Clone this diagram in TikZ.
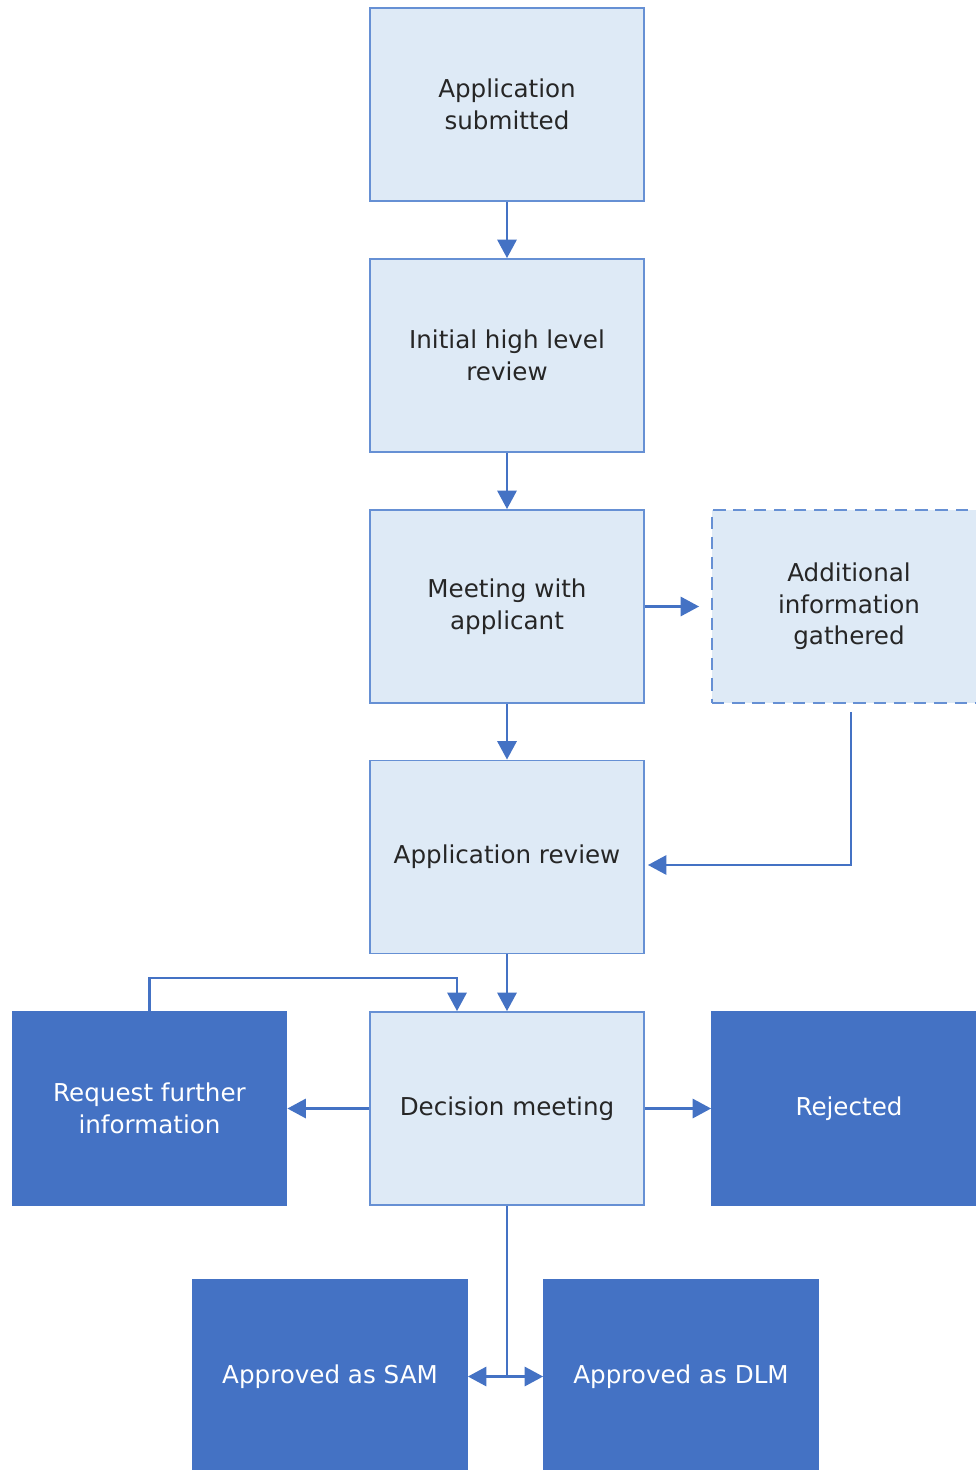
\documentclass[tikz,border=0pt]{standalone}
\usepackage{fontspec}
\setmainfont{DejaVu Sans}
\usetikzlibrary{arrows.meta,positioning}
\definecolor{boxfill}{HTML}{DEEAF6}
\definecolor{boxline}{HTML}{6690D4}
\definecolor{darkbox}{HTML}{4472C4}
\definecolor{flowline}{HTML}{4472C4}
\tikzset{
	stage/.style={draw=boxline, fill=boxfill, line width=1.1pt, minimum width=5.48cm, minimum height=3.86cm, inner sep=0pt, align=center, text=black!85, font=\fontsize{14}{18}\selectfont},
	outcome/.style={stage, draw=darkbox, fill=darkbox, text=white},
	optional/.style={stage, dash pattern=on 7pt off 4.5pt},
	link/.style={draw=flowline, line width=1.25pt},
	flow/.style={link, -{Triangle[length=10.5pt,width=11pt]}},
}
\begin{document}
\begin{tikzpicture}[x=0.02cm, y=-0.02cm]
	\useasboundingbox (0,0) rectangle (976,1470);
	% main column
	\node[stage] (sub) at (507,104.5) {Application\\submitted};
	\node[stage] (rev) at (507,355.5) {Initial high level\\review};
	\node[stage] (meet) at (507,606.5) {Meeting with\\applicant};
	\node[stage] (appr) at (507,857) {Application review};
	\node[stage] (dec) at (507,1108.5) {Decision meeting};
	% side boxes
	\node[optional] (add) at (849,606.5) {Additional\\information\\gathered};
	\node[outcome] (req) at (149.5,1108.5) {Request further\\information};
	\node[outcome] (rej) at (849,1108.5) {Rejected};
	\node[outcome] (sam) at (330,1376.5) {Approved as SAM};
	\node[outcome] (dlm) at (681,1376.5) {Approved as DLM};
	% connectors
	\draw[flow] (sub) -- (rev);
	\draw[flow] (rev) -- (meet);
	\draw[flow] (meet) -- (appr);
	\draw[flow] (appr) -- (dec);
	\draw[flow, shorten >=0.24cm] (meet) -- (add);
	\draw[flow, shorten <=0.16cm, shorten >=0.06cm] ([xshift=0.04cm]add.south) |- ([yshift=-0.16cm]appr.east);
	\draw[flow] (req.north) -- ++(0,-33) -| ([xshift=-1cm]dec.north);
	\draw[flow] (dec) -- (req);
	\draw[flow] (dec) -- (rej);
	\draw[link] (dec.south) -- (dec.south |- sam.east);
	\draw[flow, {Triangle[length=10.5pt,width=11pt]}-{Triangle[length=10.5pt,width=11pt]}] (sam) -- (dlm);
\end{tikzpicture}
\end{document}
